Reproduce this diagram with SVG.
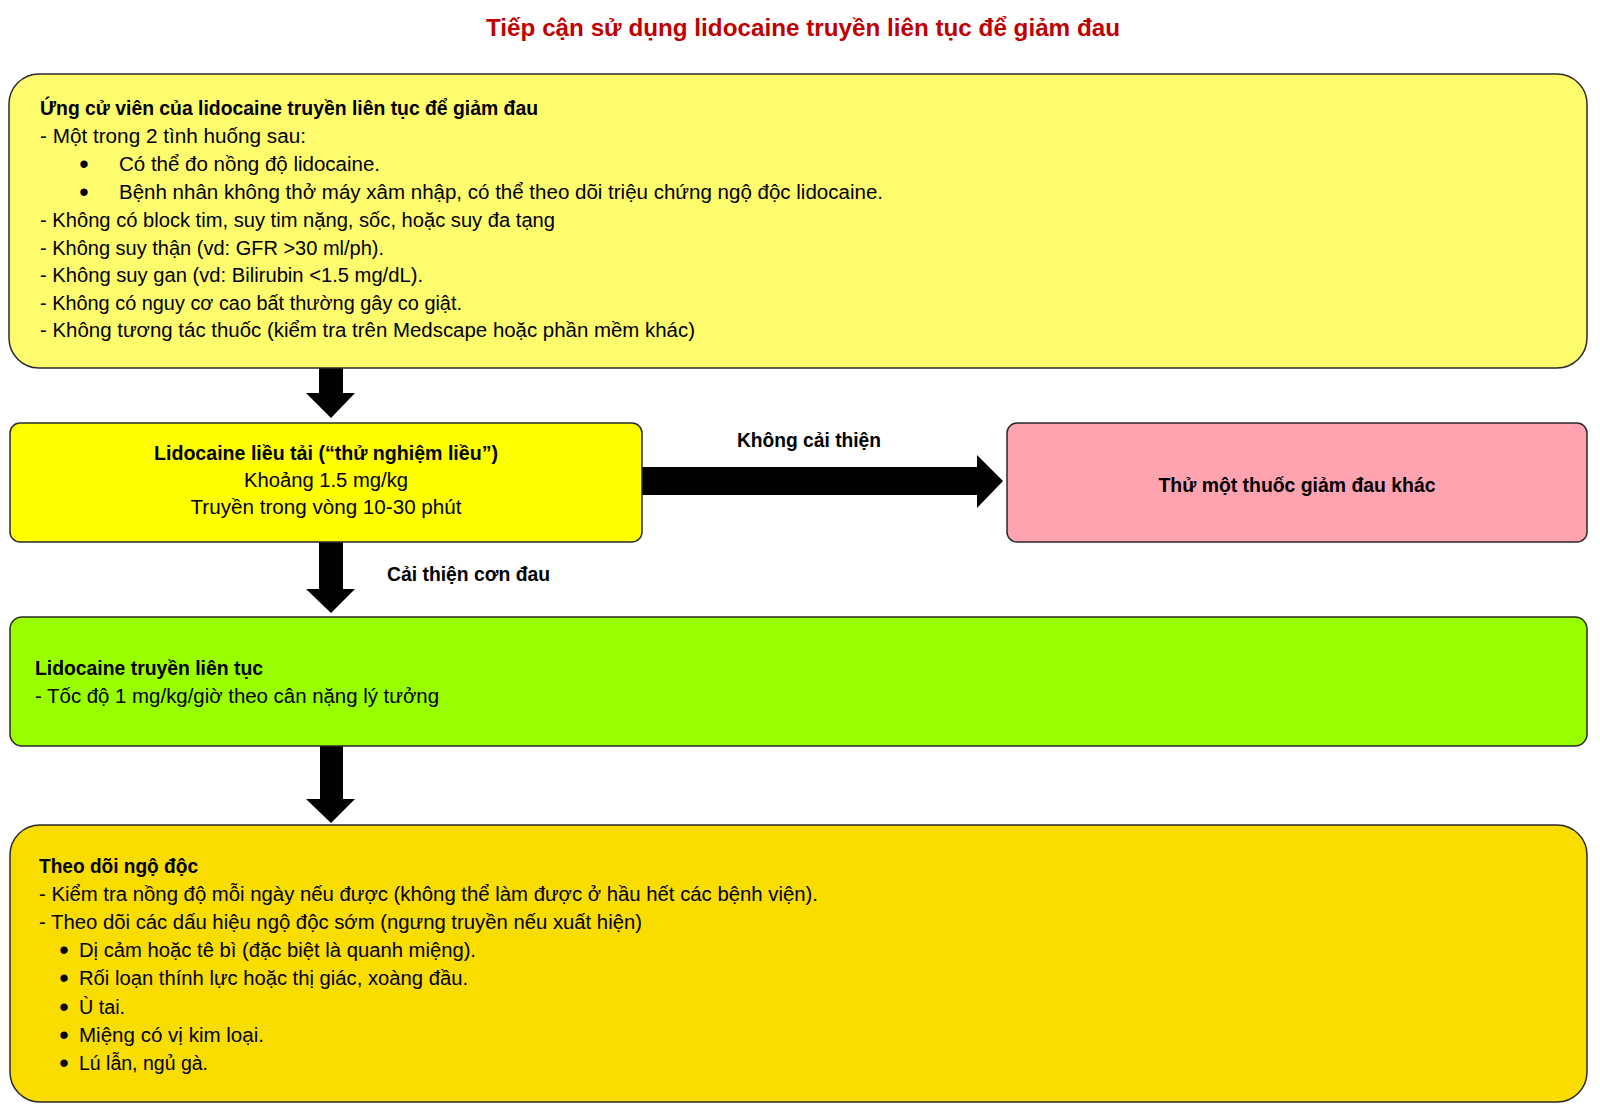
<svg xmlns="http://www.w3.org/2000/svg" width="1600" height="1112" viewBox="0 0 1600 1112">
<style>
.t{font-family:"Liberation Sans",Arial,sans-serif;font-size:20px;fill:#000}
.b{font-weight:bold}
.bul{font-family:"Liberation Sans",Arial,sans-serif;font-size:27px;fill:#000;text-anchor:middle}
.box{stroke:#2a2a2a;stroke-width:1.5}
.ttl{font-family:"Liberation Sans",Arial,sans-serif;font-size:23px;font-weight:bold;fill:#C00000}
.arr{fill:#000}
</style>
<rect width="1600" height="1112" fill="#fff"/>
<text class="ttl" x="486" y="36" textLength="634" lengthAdjust="spacingAndGlyphs">Tiếp cận sử dụng lidocaine truyền liên tục để giảm đau</text>

<g id="connectors">
  <path class="arr" d="M319,368 H343 V393 H355 L331,418 L306,393 H319 Z"/>
  <path class="arr" d="M319,542 H343 V589 H355 L331,613 L306,589 H319 Z"/>
  <path class="arr" d="M320,746 H343 V799 H355 L331,823 L306,799 H320 Z"/>
  <path class="arr" d="M642,467 H977 V455 L1003,481 L977,508 V495 H642 Z"/>
  <text class="t b" x="737" y="447" textLength="144" lengthAdjust="spacingAndGlyphs">Không cải thiện</text>
  <text class="t b" x="387" y="581" textLength="163" lengthAdjust="spacingAndGlyphs">Cải thiện cơn đau</text>
</g>

<g id="candidates">
  <rect class="box" x="9" y="74" width="1578" height="294" rx="30" ry="30" fill="#FEFC6C"/>
  <text class="t b" x="40" y="115" textLength="498" lengthAdjust="spacingAndGlyphs">Ứng cử viên của lidocaine truyền liên tục để giảm đau</text>
  <text class="t" x="40" y="143" textLength="266" lengthAdjust="spacingAndGlyphs">- Một trong 2 tình huống sau:</text>
  <text class="bul" x="84" y="173">•</text>
  <text class="t" x="119" y="171" textLength="261" lengthAdjust="spacingAndGlyphs">Có thể đo nồng độ lidocaine.</text>
  <text class="bul" x="84" y="201">•</text>
  <text class="t" x="119" y="199" textLength="764" lengthAdjust="spacingAndGlyphs">Bệnh nhân không thở máy xâm nhập, có thể theo dõi triệu chứng ngộ độc lidocaine.</text>
  <text class="t" x="40" y="227" textLength="515" lengthAdjust="spacingAndGlyphs">- Không có block tim, suy tim nặng, sốc, hoặc suy đa tạng</text>
  <text class="t" x="40" y="255" textLength="344" lengthAdjust="spacingAndGlyphs">- Không suy thận (vd: GFR &gt;30 ml/ph).</text>
  <text class="t" x="40" y="282" textLength="383" lengthAdjust="spacingAndGlyphs">- Không suy gan (vd: Bilirubin &lt;1.5 mg/dL).</text>
  <text class="t" x="40" y="310" textLength="422" lengthAdjust="spacingAndGlyphs">- Không có nguy cơ cao bất thường gây co giật.</text>
  <text class="t" x="40" y="337" textLength="655" lengthAdjust="spacingAndGlyphs">- Không tương tác thuốc (kiểm tra trên Medscape hoặc phần mềm khác)</text>
</g>

<g id="loading-dose">
  <rect class="box" x="10" y="423" width="632" height="119" rx="10" ry="10" fill="#FFFF00"/>
  <text class="t b" x="326" y="460" text-anchor="middle" textLength="344" lengthAdjust="spacingAndGlyphs">Lidocaine liều tải (“thử nghiệm liều”)</text>
  <text class="t" x="326" y="487" text-anchor="middle" textLength="164" lengthAdjust="spacingAndGlyphs">Khoảng 1.5 mg/kg</text>
  <text class="t" x="326" y="514" text-anchor="middle" textLength="271" lengthAdjust="spacingAndGlyphs">Truyền trong vòng 10-30 phút</text>
</g>

<g id="other-analgesic">
  <rect class="box" x="1007" y="423" width="580" height="119" rx="10" ry="10" fill="#FFA3B1"/>
  <text class="t b" x="1297" y="492" text-anchor="middle" textLength="277" lengthAdjust="spacingAndGlyphs">Thử một thuốc giảm đau khác</text>
</g>

<g id="continuous">
  <rect class="box" x="10" y="617" width="1577" height="129" rx="12" ry="12" fill="#99FF00"/>
  <text class="t b" x="35" y="675" textLength="228" lengthAdjust="spacingAndGlyphs">Lidocaine truyền liên tục</text>
  <text class="t" x="35" y="703" textLength="404" lengthAdjust="spacingAndGlyphs">- Tốc độ 1 mg/kg/giờ theo cân nặng lý tưởng</text>
</g>

<g id="toxicity">
  <rect class="box" x="10" y="825" width="1577" height="277" rx="30" ry="30" fill="#F9DC00"/>
  <text class="t b" x="39" y="873" textLength="159" lengthAdjust="spacingAndGlyphs">Theo dõi ngộ độc</text>
  <text class="t" x="39" y="901" textLength="779" lengthAdjust="spacingAndGlyphs">- Kiểm tra nồng độ mỗi ngày nếu được (không thể làm được ở hầu hết các bệnh viện).</text>
  <text class="t" x="39" y="929" textLength="603" lengthAdjust="spacingAndGlyphs">- Theo dõi các dấu hiệu ngộ độc sớm (ngưng truyền nếu xuất hiện)</text>
  <text class="bul" x="64" y="959">•</text>
  <text class="t" x="79" y="957" textLength="397" lengthAdjust="spacingAndGlyphs">Dị cảm hoặc tê bì (đặc biệt là quanh miệng).</text>
  <text class="bul" x="64" y="987">•</text>
  <text class="t" x="79" y="985" textLength="389" lengthAdjust="spacingAndGlyphs">Rối loạn thính lực hoặc thị giác, xoàng đầu.</text>
  <text class="bul" x="64" y="1016">•</text>
  <text class="t" x="79" y="1014" textLength="46" lengthAdjust="spacingAndGlyphs">Ù tai.</text>
  <text class="bul" x="64" y="1044">•</text>
  <text class="t" x="79" y="1042" textLength="185" lengthAdjust="spacingAndGlyphs">Miệng có vị kim loại.</text>
  <text class="bul" x="64" y="1072">•</text>
  <text class="t" x="79" y="1070" textLength="129" lengthAdjust="spacingAndGlyphs">Lú lẫn, ngủ gà.</text>
</g>
</svg>
